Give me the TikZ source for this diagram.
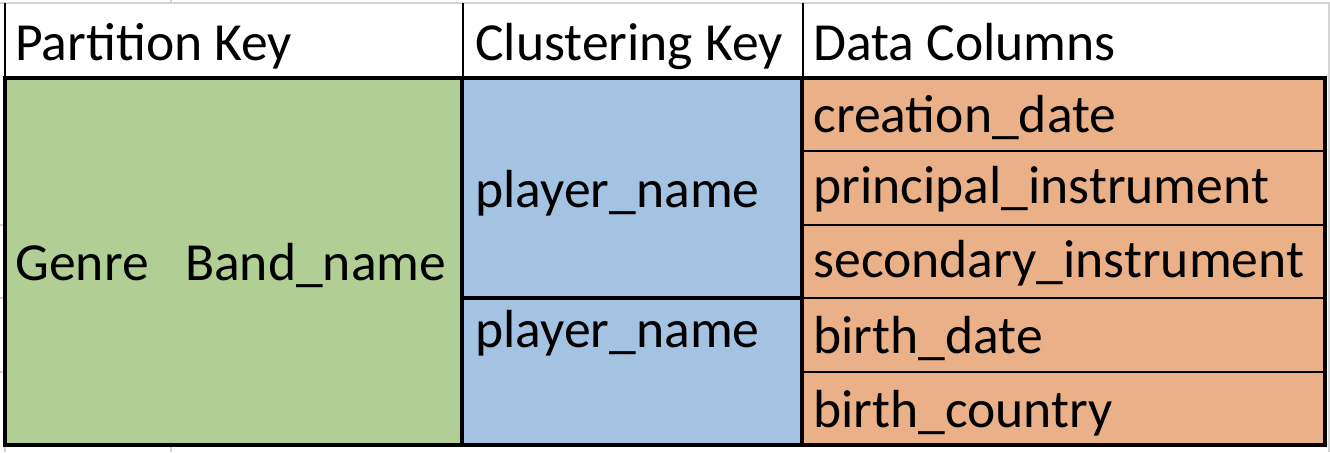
\documentclass[tikz,border=0pt]{standalone}
\usepackage{fontspec}
\setmainfont{Carlito}
\definecolor{partgreen}{RGB}{177,206,149}
\definecolor{clustblue}{RGB}{164,194,226}
\definecolor{dataorange}{RGB}{234,177,137}
\definecolor{gridgray}{RGB}{212,212,212}
\tikzset{
  celltext/.style={anchor=base west, inner sep=0pt, font=\fontsize{26.8}{30}\selectfont},
  thinrule/.style={line width=1pt},
  thickrule/.style={line width=2pt},
  gridrule/.style={draw=gridgray, line width=1pt}
}
\begin{document}
\begin{tikzpicture}[x=0.5pt,y=-0.5pt]
                        \useasboundingbox (0,0) rectangle (1330,452);
                        % spreadsheet grid
                        \draw [gridrule] (0,3)--(1330,3);
                        \draw [gridrule] (171,0)--(171,3);
                        \draw [gridrule] (171,445)--(171,452);
                        \draw [gridrule] (5,445)--(5,452);
                        \draw [gridrule] (1328.5,3)--(1328.5,452);
                        \draw [gridrule] (0,224.8)--(4,224.8);
                        \draw [gridrule] (0,298.2)--(4,298.2);
                        \draw [gridrule] (0,371.6)--(4,371.6);
                        % cells
                        \fill [partgreen] (4,78) rectangle (462,445);
                        \fill [clustblue] (462,78) rectangle (802,445);
                        \fill [dataorange] (802,78) rectangle (1325,445);
                        \draw [thinrule] (5,3)--(5,78);
                        \draw [thinrule] (463,3)--(463,78);
                        \draw [thinrule] (802.5,3)--(802.5,78);
                        \draw [thinrule] (802,151.4)--(1325,151.4);
                        \draw [thinrule] (802,224.8)--(1325,224.8);
                        \draw [thinrule] (802,298.2)--(1325,298.2);
                        \draw [thinrule] (802,371.6)--(1325,371.6);
                        \draw [thickrule] (462,298.2)--(802,298.2);
                        \draw [thickrule] (462,78)--(462,445);
                        \draw [thickrule] (802,78)--(802,445);
                        \draw [thickrule] (4.5,78) rectangle (1325,445);
                        % texts
                        \node [celltext] (partkey) at (15,60) {Partition Key};
                        \node [celltext] (clustkey) at (475,60) {Clustering Key};
                        \node [celltext] (datacols) at (813,60) {Data Columns};
                        \node [celltext] (genreband) at (15,280) {Genre~~~Band\_name};
                        \node [celltext] (player1) at (475,207) {player\_name};
                        \node [celltext] (player2) at (475,347) {player\_name};
                        \node [celltext] (created) at (813,132) {creation\_date};
                        \node [celltext] (principal) at (813,203) {principal\_instrument};
                        \node [celltext] (secondary) at (813,277) {secondary\_instrument};
                        \node [celltext] (birthdate) at (813,353) {birth\_date};
                        \node [celltext] (birthcountry) at (813,427) {birth\_country};
\end{tikzpicture}
\end{document}
